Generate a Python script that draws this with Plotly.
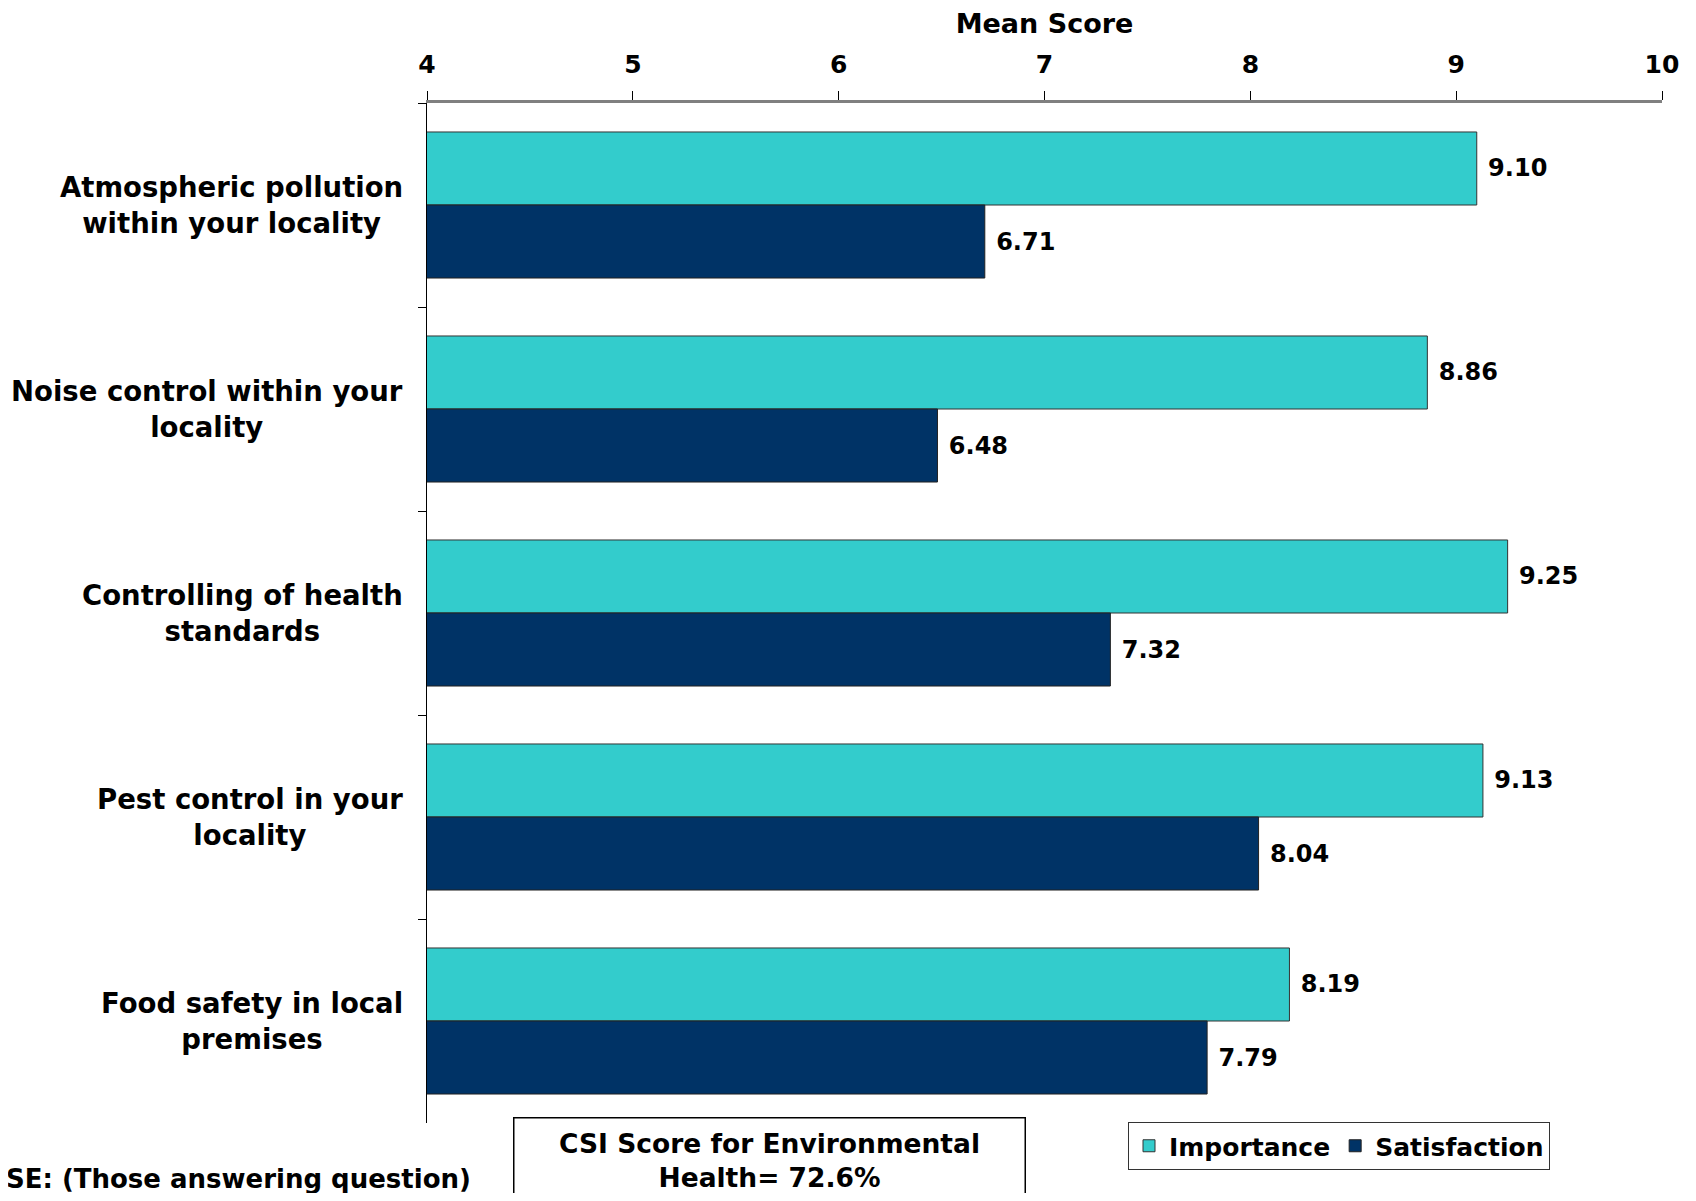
import plotly.graph_objects as go

categories = [
    "Atmospheric pollution<br>within your locality",
    "Noise control within your<br>locality",
    "Controlling of health<br>standards",
    "Pest control in your<br>locality",
    "Food safety in local<br>premises",
]
importance = [9.10, 8.86, 9.25, 9.13, 8.19]
satisfaction = [6.71, 6.48, 7.32, 8.04, 7.79]
x_ticks = [4, 5, 6, 7, 8, 9, 10]

FONT = "DejaVu Sans"
OFF = 8  # page body margin offset

W, H = 1696 - 2 * OFF, 1201 - 2 * OFF
L, T = 427 - OFF, 103 - OFF
R = W - (1662 - OFF)
B = H - (1123 - OFF)
pw, ph = W - L - R, H - T - B


def px_x(x):  # page pixel -> paper x
    return (x - OFF - L) / pw


def px_y(y):  # page pixel -> paper y
    return (T + ph - (y - OFF)) / ph


fig = go.Figure()
fig.add_trace(go.Bar(
    name="Importance", y=categories, x=importance, orientation="h",
    marker=dict(color="#33CCCC", line=dict(color="#333333", width=1)),
    text=[f" {v:.2f}" for v in importance], textposition="outside",
    textfont=dict(family=FONT, size=24, color="black", weight="bold"),
    cliponaxis=False,
))
fig.add_trace(go.Bar(
    name="Satisfaction", y=categories, x=satisfaction, orientation="h",
    marker=dict(color="#003366", line=dict(color="#222222", width=1)),
    text=[f" {v:.2f}" for v in satisfaction], textposition="outside",
    textfont=dict(family=FONT, size=24, color="black", weight="bold"),
    cliponaxis=False,
))

for c in categories:
    fig.add_annotation(
        x=px_x(405), xref="paper", y=c, yref="y", text=c, showarrow=False,
        xanchor="right", yanchor="middle", align="center",
        font=dict(family=FONT, size=27.5, color="black", weight="bold"),
    )

fig.add_annotation(
    x=px_x((513 + 1025) / 2), xref="paper", y=px_y(1117), yref="paper",
    text="CSI Score for Environmental<br>Health= 72.6%", showarrow=False,
    xanchor="center", yanchor="top", align="center",
    width=508, height=82, bordercolor="black", borderwidth=1.5, bgcolor="white",
    font=dict(family=FONT, size=26.5, color="black", weight="bold"),
)
fig.add_annotation(
    x=px_x(473), xref="paper", y=px_y(1179), yref="paper",
    text="BASE: (Those answering question)", showarrow=False,
    xanchor="right", yanchor="middle",
    font=dict(family=FONT, size=26, color="black", weight="bold"),
)

fig.update_layout(
    width=W, height=H,
    margin=dict(l=L, r=R, t=T, b=B, autoexpand=False),
    paper_bgcolor="white", plot_bgcolor="white",
    barmode="group", bargap=0.284, bargroupgap=0,
    font=dict(family=FONT, color="black"),
    xaxis=dict(
        side="top", range=[4, 10], tickvals=x_ticks, ticktext=[str(t) for t in x_ticks],
        showgrid=False, zeroline=False, showline=True, linecolor="#808080", linewidth=3,
        ticks="outside", ticklen=9, tickcolor="black", tickwidth=1,
        tickfont=dict(family=FONT, size=25, color="black", weight="bold"),
        ticklabelstandoff=8,
        title=dict(text="Mean Score", standoff=14,
                   font=dict(family=FONT, size=27, color="black", weight="bold")),
    ),
    yaxis=dict(
        type="category", categoryorder="array", categoryarray=categories,
        autorange="reversed", showgrid=False, zeroline=False,
        showline=True, linecolor="black", linewidth=1,
        ticks="outside", tickson="boundaries", ticklen=8, tickcolor="black",
        showticklabels=False,
    ),
    showlegend=True,
    legend=dict(
        orientation="h", x=px_x(1128), xanchor="left", y=px_y(1122), yanchor="top",
        bordercolor="#333333", borderwidth=1, bgcolor="white",
        font=dict(family=FONT, size=25, color="black", weight="bold"),
        itemwidth=30, tracegroupgap=0,
    ),
)

fig.write_html("out.html")
